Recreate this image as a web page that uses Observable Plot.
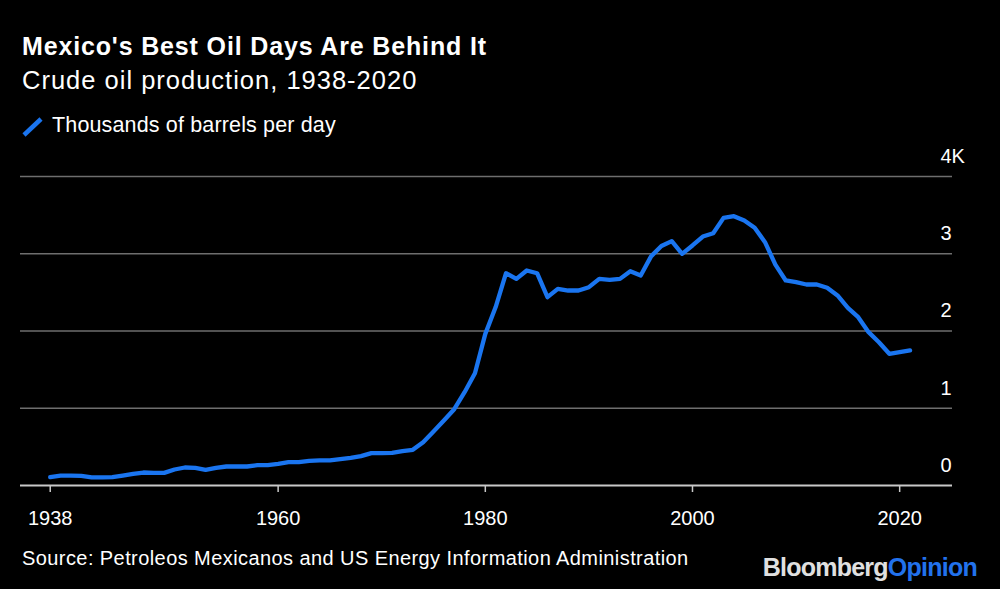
<!DOCTYPE html>
<html>
<head>
<meta charset="utf-8">
<script src="https://cdn.jsdelivr.net/npm/d3@7"></script>
<script src="https://cdn.jsdelivr.net/npm/@observablehq/plot@0.6"></script>
<style>
  html, body { margin: 0; padding: 0; background: #000; width: 1000px; height: 589px; overflow: hidden; }
  body { font-family: "Liberation Sans", Arial, sans-serif; color: #fff; position: relative; }
  .t { position: absolute; white-space: nowrap; line-height: 1; }
  #title { left: 22px; top: 34px; font-size: 25px; font-weight: bold; letter-spacing: 0.85px; }
  #subtitle { left: 22px; top: 68px; font-size: 25.5px; letter-spacing: 1px; }
  #legend { left: 22px; top: 115px; font-size: 21.5px; letter-spacing: 0.15px; }
  #legend svg { position: absolute; left: 0; top: 2px; }
  #legend span { margin-left: 30px; }
  #source { left: 22px; top: 548px; font-size: 20px; letter-spacing: 0.42px; }
  #logo { right: 23px; top: 555px; font-size: 25px; font-weight: bold; letter-spacing: -0.75px; }
  #logo .b { color: #e0e0e0; }
  #logo .o { color: #2272ec; }
  #chart { position: absolute; left: 0; top: 140px; }
</style>
</head>
<body>
<div id="title" class="t">Mexico's Best Oil Days Are Behind It</div>
<div id="subtitle" class="t">Crude oil production, 1938-2020</div>
<div id="legend" class="t"><svg width="22" height="20"><line x1="2" y1="18" x2="19" y2="2" stroke="#1a75f0" stroke-width="4.5"/></svg><span>Thousands of barrels per day</span></div>
<div id="chart"></div>
<div id="source" class="t">Source: Petroleos Mexicanos and US Energy Information Administration</div>
<div id="logo" class="t"><span class="b">Bloomberg</span><span class="o">Opinion</span></div>
<script>
const years = [
  1938, 1939, 1940, 1941, 1942, 1943, 1944, 1945, 1946, 1947,
  1948, 1949, 1950, 1951, 1952, 1953, 1954, 1955, 1956, 1957,
  1958, 1959, 1960, 1961, 1962, 1963, 1964, 1965, 1966, 1967,
  1968, 1969, 1970, 1971, 1972, 1973, 1974, 1975, 1976, 1977,
  1978, 1979, 1980, 1981, 1982, 1983, 1984, 1985, 1986, 1987,
  1988, 1989, 1990, 1991, 1992, 1993, 1994, 1995, 1996, 1997,
  1998, 1999, 2000, 2001, 2002, 2003, 2004, 2005, 2006, 2007,
  2008, 2009, 2010, 2011, 2012, 2013, 2014, 2015, 2016, 2017,
  2018, 2019, 2020, 2021
];
const production = [
  108, 129, 129, 125, 104, 104, 108, 129, 151, 168,
  164, 164, 207, 233, 229, 203, 229, 246, 246, 246,
  263, 263, 280, 302, 302, 319, 324, 324, 341, 358,
  380, 419, 419, 423, 445, 462, 561, 699, 841, 988,
  1208, 1454, 1963, 2310, 2748, 2675, 2783, 2748, 2438, 2546,
  2524, 2524, 2567, 2675, 2662, 2675, 2774, 2718, 2966, 3100,
  3163, 2999, 3107, 3223, 3266, 3465, 3486, 3430, 3336, 3150,
  2860, 2654, 2632, 2602, 2602, 2559, 2460, 2300, 2179, 1985,
  1855, 1705, 1726, 1748
];
const xTicks = [1938, 1960, 1980, 2000, 2020];
const yTicks = [0, 1000, 2000, 3000, 4000];
const yTickLabels = ["0", "1", "2", "3", "4K"];

const data = years.map((year, i) => ({year, value: production[i]}));
const font = '"Liberation Sans", Arial, sans-serif';

const chart = Plot.plot({
  width: 1000,
  height: 400,
  marginLeft: 20,
  marginRight: 48,
  marginTop: 36,
  marginBottom: 55,
  style: {background: "transparent", color: "#fff", fontFamily: font, fontSize: "19px", overflow: "visible"},
  x: {domain: [1935.13, 2025.1]},
  y: {domain: [0, 4000]},
  marks: [
    Plot.ruleY(yTicks.filter(d => d > 0), {stroke: "#6e6e6e", strokeWidth: 1.6}),
    Plot.ruleY([0], {stroke: "#c8c8c8", strokeWidth: 2}),
    Plot.axisY(yTicks, {
      anchor: "right", tickSize: 0, tickPadding: 0, dx: -12, dy: -20,
      textAnchor: "start", label: null, fill: "#fff", fontSize: 20,
      tickFormat: d => yTickLabels[yTicks.indexOf(d)]
    }),
    Plot.axisX(xTicks, {
      tickSize: 7, tickPadding: 18, label: null, stroke: "#c8c8c8", fill: "#fff",
      fontSize: 20, strokeWidth: 1.5, tickFormat: d => String(d)
    }),
    Plot.line(data, {x: "year", y: "value", stroke: "#1a75f0", strokeWidth: 4.3, strokeLinejoin: "round", strokeLinecap: "round"})
  ]
});
document.getElementById("chart").appendChild(chart);
</script>
</body>
</html>
